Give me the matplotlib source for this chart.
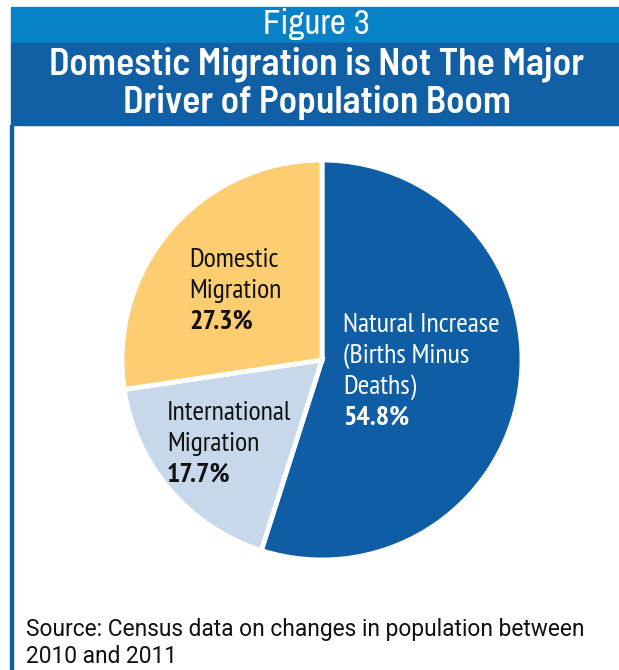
import matplotlib
matplotlib.use("Agg")
import matplotlib.pyplot as plt
from matplotlib.patches import Rectangle
from matplotlib import font_manager

categories = ["Natural Increase\n(Births Minus\nDeaths)", "International\nMigration", "Domestic\nMigration"]
values = [54.8, 17.7, 27.3]
pct_labels = ["54.8%", "17.7%", "27.3%"]
colors = ["#0F5DA5", "#C6D8EA", "#FDCD72"]

title_top = "Figure 3"
title_lines = ["Domestic Migration is Not The Major", "Driver of Population Boom"]
source_lines = ["Source: Census data on changes in population between", "2010 and 2011"]

fonts = {(f.name, f.weight) for f in font_manager.fontManager.ttflist}
names = {n for n, _ in fonts}

def pick(cands, weight=None):
    for c in cands:
        if c in names and (weight is None or (c, weight) in fonts):
            return c
    return "DejaVu Sans"

narrow_font = pick(["Archivo Narrow", "Asap Condensed", "Barlow Semi Condensed"])
title_font = pick(["Barlow Semi Condensed", "Asap Condensed", "Encode Sans Condensed"], 600)
title_weight = 600 if title_font != "DejaVu Sans" else "bold"
src_font = pick(["Archivo", "Roboto", "Liberation Sans"], 400)
lab_font = pick(["PT Sans Narrow", "Asap Condensed", "Archivo Narrow"])

W, H = 619, 670
fig = plt.figure(figsize=(W / 100, H / 100), dpi=100)
fig.patch.set_facecolor("white")
renderer = fig.canvas.get_renderer()

def fx(px):
    return px / W

def fy(py):
    return 1 - py / H

def fit(t, target_px):
    for _ in range(3):
        w = t.get_window_extent(renderer).width
        t.set_fontsize(t.get_fontsize() * target_px / w)

# header bands
fig.patches.append(Rectangle((fx(11), fy(43)), fx(W - 11), (43 - 7) / H,
                             transform=fig.transFigure, color="#0882C6", zorder=0))
fig.patches.append(Rectangle((fx(11), fy(125)), fx(W - 11), (125 - 43) / H,
                             transform=fig.transFigure, color="#115FA4", zorder=0))
# left border
fig.patches.append(Rectangle((fx(10), 0), 2.5 / W, fy(125),
                             transform=fig.transFigure, color="#115FA4", zorder=0))

t = fig.text(fx(316.5), fy(34), title_top, ha="center", va="baseline", color="white",
             fontsize=22, family=narrow_font)
fit(t, 107)

for txt, base, width in zip(title_lines, [74, 113], [535, 388]):
    t = fig.text(fx(317), fy(base), txt, ha="center", va="baseline", color="white",
                 fontsize=24, family=title_font, fontweight=title_weight)
    fit(t, width)

t1 = fig.text(fx(26), fy(636), source_lines[0], ha="left", va="baseline",
              fontsize=15, family=src_font, fontweight="normal", color="#111111")
fit(t1, 558)
fig.text(fx(26), fy(663), source_lines[1], ha="left", va="baseline",
         fontsize=t1.get_fontsize(), family=src_font, fontweight="normal", color="#111111")

# pie axes: center (322,360), radius 200
cx, cy, r = 322, 360, 200
ax = fig.add_axes([fx(cx - r), fy(cy + r), 2 * r / W, 2 * r / H])
ax.pie(values, colors=colors, startangle=90, counterclock=False, radius=1,
       wedgeprops=dict(edgecolor="white", linewidth=3.5))
ax.set_xlim(-1, 1)
ax.set_ylim(-1, 1)
ax.set_aspect("equal")
ax.axis("off")

def u(px):
    return px / r

# measure label size
probe = ax.text(0, 0, "Natural Increase", family=lab_font, fontsize=17)
fit(probe, 157)
lab_fs = probe.get_fontsize()
probe.remove()

label_pos = [(343 - cx, cy - 332), (167 - cx, cy - 420), (189 - cx, cy - 267)]
text_colors = ["white", "#111111", "#111111"]
lh = 31
for name, pct, (x0, y0), tc in zip(categories, pct_labels, label_pos, text_colors):
    lines = name.split("\n")
    for i, ln in enumerate(lines):
        ax.text(u(x0), u(y0 - i * lh), ln, ha="left", va="baseline", color=tc,
                fontsize=lab_fs, family=lab_font)
    ax.text(u(x0), u(y0 - len(lines) * lh), pct, ha="left", va="baseline", color=tc,
            fontsize=lab_fs, family=lab_font, fontweight="bold")

fig.savefig("out.png", dpi=100)
